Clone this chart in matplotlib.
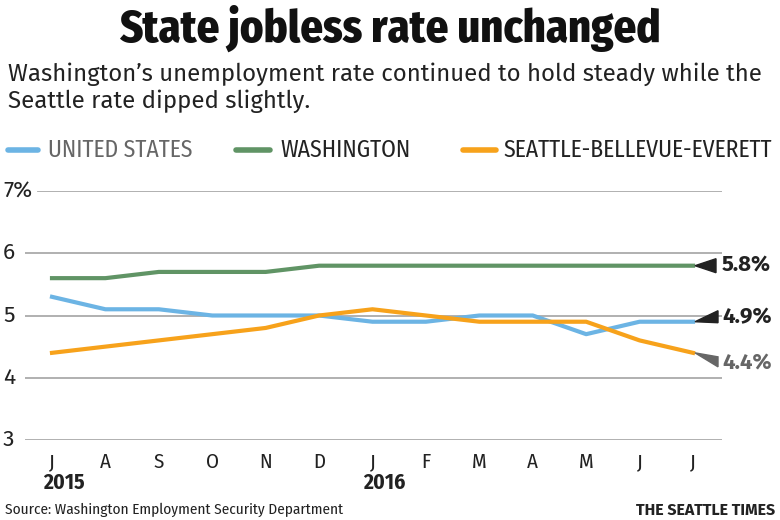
"""Seattle Times style chart: state jobless rate unchanged."""

import matplotlib
matplotlib.use("Agg")
import matplotlib.pyplot as plt
from matplotlib.lines import Line2D
from matplotlib.patches import Polygon
from matplotlib.transforms import ScaledTranslation, blended_transform_factory

months = ["J", "A", "S", "O", "N", "D", "J", "F", "M", "A", "M", "J", "J"]
years = [(0, "2015"), (6, "2016")]
us_rate = [5.3, 5.1, 5.1, 5.0, 5.0, 5.0, 4.9, 4.9, 5.0, 5.0, 4.7, 4.9, 4.9]
wa_rate = [5.6, 5.6, 5.7, 5.7, 5.7, 5.8, 5.8, 5.8, 5.8, 5.8, 5.8, 5.8, 5.8]
sea_rate = [4.4, 4.5, 4.6, 4.7, 4.8, 5.0, 5.1, 5.0, 4.9, 4.9, 4.9, 4.6, 4.4]
y_ticks = [3, 4, 5, 6, 7]
y_labels = ["3", "4", "5", "6", "7%"]

BLUE = "#6cb4e4"
GREEN = "#609465"
ORANGE = "#f7a21b"
DARK = "#222222"
GRAY = "#666666"
COND = ["Fira Sans Condensed", "DejaVu Sans"]
SANS = ["Fira Sans", "DejaVu Sans"]

fig = plt.figure(figsize=(7.8, 5.2), dpi=100)
W, H = 780.0, 520.0

# plot area: gridlines span x 25..722 px, y 191 (7%) .. 440 (3)
ax = fig.add_axes([25 / W, 1 - 440 / H, 697 / W, 249 / H])
step = (693 - 52) / 12.0
ax.set_xlim(-(52 - 25) / step, 12 + (722 - 693) / step)
ax.set_ylim(3, 7)
for s in ax.spines.values():
    s.set_visible(False)
ax.set_yticks([])

for v in y_ticks:
    xmin = (38 - 25) / 697 if v == 7 else 0
    ax.axhline(v, xmin=xmin, xmax=1, color="#aaaaaa", lw=1.3, zorder=1)

yl_trans = blended_transform_factory(fig.transFigure, ax.transData)
for v, lab in zip(y_ticks, y_labels):
    ax.text(3 / W, v, lab, transform=yl_trans, ha="left", va="center",
            fontsize=16.5, family=SANS, color=DARK)

ax.set_xticks(range(len(months)))
ax.set_xticklabels(months, fontsize=15, family=COND, color=DARK)
ax.tick_params(axis="x", length=0, pad=9)

x = list(range(len(months)))
ax.plot(x, us_rate, color=BLUE, lw=3, zorder=3)
ax.plot(x, wa_rate, color=GREEN, lw=3, zorder=3)
ax.plot(x, sea_rate, color=ORANGE, lw=3, zorder=3)

yr_trans = blended_transform_factory(ax.transData, fig.transFigure)
for i, lab in years:
    ax.annotate(lab, (i, 1 - 483 / H), xycoords=yr_trans, xytext=(-9, 0),
                textcoords="offset pixels", ha="left", va="center",
                fontsize=15.5, fontweight="bold", family=COND, color=DARK)

# end-of-line callouts (pixel offsets from the last point)
callouts = [
    (wa_rate[-1], [(2, 0), (23, 7), (23, -7)], 0, DARK),
    (us_rate[-1], [(2, 0), (25, 11), (25, -1)], 5, DARK),
    (sea_rate[-1], [(2, 0), (25, -4), (25, -14)], -10, GRAY),
]
for val, tri, dy, col in callouts:
    trans = fig.dpi_scale_trans + ScaledTranslation(x[-1], val, ax.transData)
    verts = [(px / 100.0, py / 100.0) for px, py in tri]
    ax.add_patch(Polygon(verts, closed=True, transform=trans, color=col,
                         clip_on=False, zorder=4))
    ax.annotate(f"{val:.1f}%", (x[-1], val), xytext=(29, dy),
                textcoords="offset pixels", ha="left", va="center",
                fontsize=16, fontweight="bold", family=SANS, color=col,
                annotation_clip=False)

# title and subtitle
fig.text(390 / W, 1 - 28 / H, "State jobless rate unchanged", ha="center", va="center",
         fontsize=32, fontweight="heavy", family=COND, color="#111111")
fig.text(8 / W, 1 - 62 / H,
         "Washington\u2019s unemployment rate continued to hold steady while the\n"
         "Seattle rate dipped slightly.",
         ha="left", va="top", fontsize=17.3, family=SANS,
         color=DARK, linespacing=1.22)

# legend
legend_items = [
    (8, 38, 48, BLUE, "UNITED STATES", GRAY),
    (236, 270, 280, GREEN, "WASHINGTON", DARK),
    (463, 496, 503, ORANGE, "SEATTLE-BELLEVUE-EVERETT", DARK),
]
ly = 1 - 150 / H
for x0, x1, tx, col, lab, tcol in legend_items:
    fig.add_artist(Line2D([x0 / W, x1 / W], [ly, ly], transform=fig.transFigure,
                          color=col, lw=4, solid_capstyle="round"))
    fig.text(tx / W, ly, lab, ha="left", va="center", fontsize=17,
             family=COND, color=tcol)

# footer
fig.text(5 / W, 1 - 510 / H, "Source: Washington Employment Security Department",
         ha="left", va="center", fontsize=11, family=COND, color=DARK)
fig.text(775 / W, 1 - 510 / H, "THE SEATTLE TIMES", ha="right", va="center",
         fontsize=11.5, fontweight="bold", family=SANS, color=DARK)

fig.savefig("out.png", dpi=100, facecolor="white")
